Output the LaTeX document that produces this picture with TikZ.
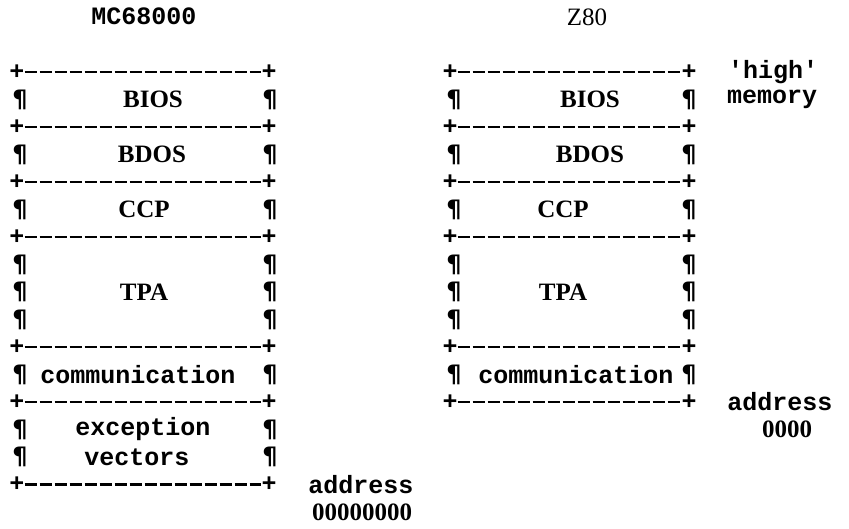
\documentclass[tikz,border=0pt]{standalone}
\usepackage{fontspec}
\setmainfont{Liberation Serif}
\setmonofont{Liberation Mono}
\newfontfamily\pilfont{DejaVu Sans}

\begin{document}
\begin{tikzpicture}[x=1pt, y=-1pt,
  every node/.style={inner sep=0pt, font=\fontsize{25}{30}\selectfont\bfseries},
  tw/.style={font=\fontsize{25}{30}\selectfont\ttfamily\bfseries},
  corner/.style={font=\fontsize{25}{30}\selectfont\ttfamily\bfseries},
  side/.style={font=\fontsize{24}{28}\selectfont\pilfont\bfseries},
  dashrow/.style={line width=2.8pt, dash pattern=on 12pt off 3pt}]
\useasboundingbox (0,0) rectangle (849,528);
% MC68000 column
\node[tw] (G1H) at (144,16) {MC68000};
\node[corner] (G1P0) at (17,72) {+};
\node[corner] (G1Q0) at (269,72) {+};
\node[side] (G1S1) at (20,99.5) {¶};
\node (G1N1) at (153,99.5) {BIOS};
\node[side] (G1T1) at (270,99.5) {¶};
\node[corner] (G1P2) at (17,127) {+};
\node[corner] (G1Q2) at (269,127) {+};
\node[side] (G1S3) at (20,154.5) {¶};
\node (G1N3) at (152,154.5) {BDOS};
\node[side] (G1T3) at (270,154.5) {¶};
\node[corner] (G1P4) at (17,182) {+};
\node[corner] (G1Q4) at (269,182) {+};
\node[side] (G1S5) at (20,209.5) {¶};
\node (G1N5) at (144,209.5) {CCP};
\node[side] (G1T5) at (270,209.5) {¶};
\node[corner] (G1P6) at (17,237) {+};
\node[corner] (G1Q6) at (269,237) {+};
\node[side] (G1S7) at (20,264.5) {¶};
\node[side] (G1T7) at (270,264.5) {¶};
\node[side] (G1S8) at (20,292) {¶};
\node (G1N8) at (144,292) {TPA};
\node[side] (G1T8) at (270,292) {¶};
\node[side] (G1S9) at (20,319.5) {¶};
\node[side] (G1T9) at (270,319.5) {¶};
\node[corner] (G1P10) at (17,347) {+};
\node[corner] (G1Q10) at (269,347) {+};
\node[side] (G1S11) at (20,374.5) {¶};
\node[tw] (G1N11) at (138,374.5) {communication};
\node[side] (G1T11) at (270,374.5) {¶};
\node[corner] (G1P12) at (17,402) {+};
\node[corner] (G1Q12) at (269,402) {+};
\node[side] (G1S13) at (20,429.5) {¶};
\node[tw] (G1N13) at (143,429.5) {exception};
\node[side] (G1T13) at (270,429.5) {¶};
\node[side] (G1S14) at (20,457) {¶};
\node[tw] (G1N14) at (137,457) {vectors};
\node[side] (G1T14) at (270,457) {¶};
\node[corner] (G1P15) at (17,484.5) {+};
\node[corner] (G1Q15) at (269,484.5) {+};
\node[tw] (G1A) at (361,484.5) {address};
\node (G1Z) at (362,512) {00000000};
\draw[dashrow] (G1P0) -- (G1Q0);
\draw[dashrow] (G1P2) -- (G1Q2);
\draw[dashrow] (G1P4) -- (G1Q4);
\draw[dashrow] (G1P6) -- (G1Q6);
\draw[dashrow] (G1P10) -- (G1Q10);
\draw[dashrow] (G1P12) -- (G1Q12);
\draw[dashrow] (G1P15) -- (G1Q15);
% Z80 column
\node[font=\fontsize{25}{30}\selectfont] (G2H) at (587,17) {Z80};
\node[corner] (G2P0) at (450,72) {+};
\node[corner] (G2Q0) at (689,72) {+};
\node[tw] (G2U) at (773,72) {'high'};
\node[side] (G2S1) at (454,99.5) {¶};
\node (G2N1) at (590,99.5) {BIOS};
\node[side] (G2T1) at (689,99.5) {¶};
\node[tw] (G2M) at (772,99.5) {memory};
\node[corner] (G2P2) at (450,127) {+};
\node[corner] (G2Q2) at (689,127) {+};
\node[side] (G2S3) at (454,154.5) {¶};
\node (G2N3) at (590,154.5) {BDOS};
\node[side] (G2T3) at (689,154.5) {¶};
\node[corner] (G2P4) at (450,182) {+};
\node[corner] (G2Q4) at (689,182) {+};
\node[side] (G2S5) at (454,209.5) {¶};
\node (G2N5) at (563,209.5) {CCP};
\node[side] (G2T5) at (689,209.5) {¶};
\node[corner] (G2P6) at (450,237) {+};
\node[corner] (G2Q6) at (689,237) {+};
\node[side] (G2S7) at (454,264.5) {¶};
\node[side] (G2T7) at (689,264.5) {¶};
\node[side] (G2S8) at (454,292) {¶};
\node (G2N8) at (563,292) {TPA};
\node[side] (G2T8) at (689,292) {¶};
\node[side] (G2S9) at (454,319.5) {¶};
\node[side] (G2T9) at (689,319.5) {¶};
\node[corner] (G2P10) at (450,347) {+};
\node[corner] (G2Q10) at (689,347) {+};
\node[side] (G2S11) at (454,374.5) {¶};
\node[tw] (G2N11) at (576,374.5) {communication};
\node[side] (G2T11) at (689,374.5) {¶};
\node[corner] (G2P12) at (450,402) {+};
\node[corner] (G2Q12) at (689,402) {+};
\node[tw] (G2A) at (780,402) {address};
\node (G2Z) at (787,429.5) {0000};
\draw[dashrow] (G2P0) -- (G2Q0);
\draw[dashrow] (G2P2) -- (G2Q2);
\draw[dashrow] (G2P4) -- (G2Q4);
\draw[dashrow] (G2P6) -- (G2Q6);
\draw[dashrow] (G2P10) -- (G2Q10);
\draw[dashrow] (G2P12) -- (G2Q12);
\end{tikzpicture}
\end{document}
